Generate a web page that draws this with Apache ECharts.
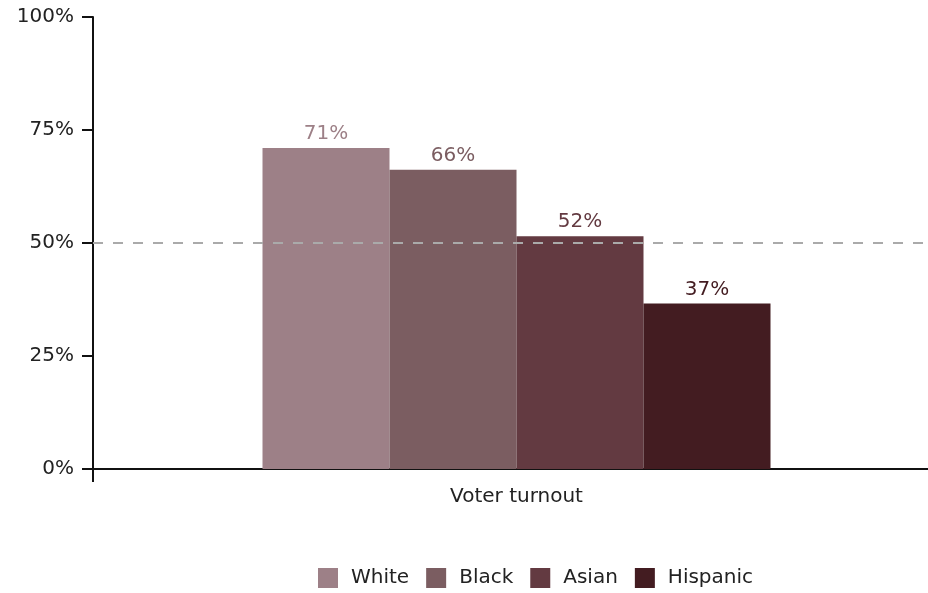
<!DOCTYPE html>
<html>
<head>
<meta charset="utf-8">
<script src="https://cdn.jsdelivr.net/npm/echarts@6/dist/echarts.min.js"></script>
<style>html,body{margin:0;padding:0;background:#fff;overflow:hidden;width:928px;height:593px;}#c{width:940px;height:593px;}</style>
</head>
<body>
<div id="c"></div>
<script>
const categories = ["Voter turnout"];
const groups = ["White", "Black", "Asian", "Hispanic"];
const values = [71.0, 66.2, 51.5, 36.6];
const colors = ["#9d8087", "#7b5d61", "#633a41", "#431c21"];
const yTicks = [0, 25, 50, 75, 100];
const refLine = 50;

const FONT = '"DejaVu Sans", sans-serif';
const chart = echarts.init(document.getElementById('c'), null, {renderer: 'canvas'});
const series = groups.map((g, i) => ({
  name: g,
  type: 'bar',
  data: [values[i]],
  barWidth: 127,
  barGap: '0%',
  itemStyle: {color: colors[i]},
  label: {
    show: true, position: 'top', distance: 4,
    color: colors[i], fontFamily: FONT, fontSize: 20,
    formatter: p => Math.round(p.value) + '%'
  },
  markLine: i === 0 ? {
    silent: true, symbol: 'none', label: {show: false},
    lineStyle: {color: '#aaaaaa', type: [10, 10], width: 2},
    data: [{yAxis: refLine}]
  } : undefined,
  z: 2
}));
chart.setOption({
  animation: false,
  grid: {left: 93, right: 0, top: 17, bottom: 124, containLabel: false},
  legend: {
    data: groups, top: 563, left: 313,
    itemWidth: 20, itemHeight: 20, itemGap: 17,
    icon: 'rect',
    textStyle: {fontFamily: FONT, fontSize: 20, color: '#222', padding: [0, 0, 0, 8]}
  },
  xAxis: {
    type: 'category', data: categories,
    axisLine: {lineStyle: {color: '#111', width: 2}},
    axisTick: {show: true, length: 13, lineStyle: {color: '#111', width: 2}},
    axisLabel: {fontFamily: FONT, fontSize: 20, color: '#222', margin: 18}
  },
  yAxis: {
    type: 'value', min: 0, max: 100, interval: 25,
    axisLine: {show: true, lineStyle: {color: '#111', width: 2}},
    axisTick: {show: true, length: 11, lineStyle: {color: '#111', width: 2}},
    splitLine: {show: false},
    axisLabel: {fontFamily: FONT, fontSize: 20, color: '#222', margin: 19,
      formatter: v => yTicks.includes(v) ? v + '%' : ''}
  },
  series: series
});
</script>
</body>
</html>
